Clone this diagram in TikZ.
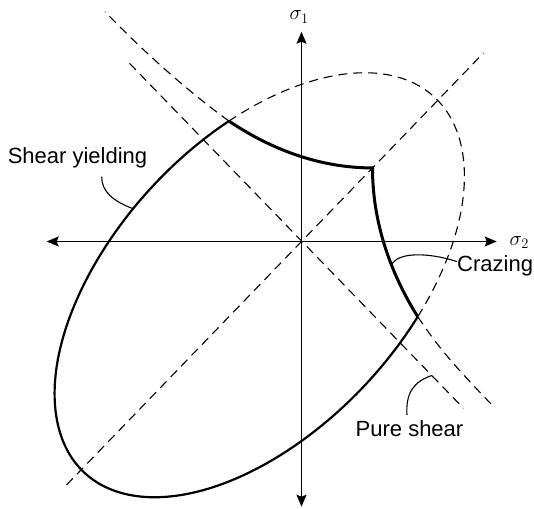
\documentclass[tikz,border=0pt]{standalone}
\usepackage{fontspec}
\setmainfont{Liberation Sans}
\usetikzlibrary{arrows.meta}
\begin{document}
\begin{tikzpicture}[x=1pt,y=1pt,
  axis/.style={line width=1.2pt, {Stealth[length=12pt,width=10pt,inset=2pt]}-{Stealth[length=12pt,width=10pt,inset=2pt]}},
  dashedline/.style={line width=1.1pt, dash pattern=on 9pt off 6pt},
  bound/.style={line width=2.2pt},
  craze/.style={line width=3pt, line join=miter},
  leader/.style={line width=1.1pt},
  lab/.style={font=\fontsize{22}{26}\selectfont, inner sep=0pt},
  siglab/.style={font=\fontsize{20}{24}\selectfont, inner sep=0pt}]
\useasboundingbox (-301.5,-266.5) rectangle (232.5,241.5);
% axes
\coordinate (O) at (0,0);
\coordinate (xl) at (-254.8,0);
\coordinate (xr) at (195.2,0);
\coordinate (yb) at (0,-265.2);
\coordinate (yt) at (0,209.8);
\draw[axis] (xl) -- (xr);
\draw[axis] (yb) -- (yt);
\node[siglab, anchor=base west] (s1) at (-12,221.5) {$\sigma_1$};
\node[siglab, anchor=base west] (s2) at (208,-4) {$\sigma_2$};
% geometry
\begin{scope}[yscale=1.036]
  \draw[dashedline] (-235,-235) -- (182,182);
  \draw[dashedline] (-172,172) -- (162,-161) coordinate[pos=0.905] (ps);
  \begin{scope}[shift={(-42,-42)}, rotate=45]
    \coordinate (c1) at (69:252 and 143);
    \coordinate (c2) at (-69:252 and 143);
    \coordinate (sy) at (98.5:252 and 143);
    \draw[bound] (c1) arc[start angle=69, end angle=291, x radius=252, y radius=143];
    \draw[dashedline] (c2) arc[start angle=-69, end angle=69, x radius=252, y radius=143];
  \end{scope}
  \coordinate (c3) at (71,71);
  \draw[craze] (c1) .. controls (-40,95) and (10,71) .. (c3)
               .. controls (71,10) and (95,-40) .. (c2) coordinate[pos=0.58] (cz);
  \coordinate (b1) at (-196.5,221.8);
  \coordinate (b2) at (191.2,-158.5);
  \draw[dashedline] (c1) .. controls (-107,140) and (-155,180) .. (b1);
  \draw[dashedline] (c2) .. controls (140,-107) and (160,-127) .. (b2);
\end{scope}
% labels and leaders
\node[lab, anchor=base] (sytext) at (-224,78.2) {Shear yielding};
\coordinate (syl) at (-199.8,64.8);
\draw[leader] (syl) .. controls (-200,50) and (-188,40) .. (sy);
\node[lab, anchor=base west] (crtext) at (155.5,-30.2) {Crazing};
\draw[leader] (cz) .. controls (96,-10) and (128,-11) .. ([yshift=4.4pt]crtext.west);
\node[lab, anchor=base west] (pstext) at (54,-195.2) {Pure shear};
\coordinate (pse) at (105.5,-173.5);
\draw[leader] (ps) .. controls (112,-140) and (104,-152) .. (pse);
\end{tikzpicture}
\end{document}
